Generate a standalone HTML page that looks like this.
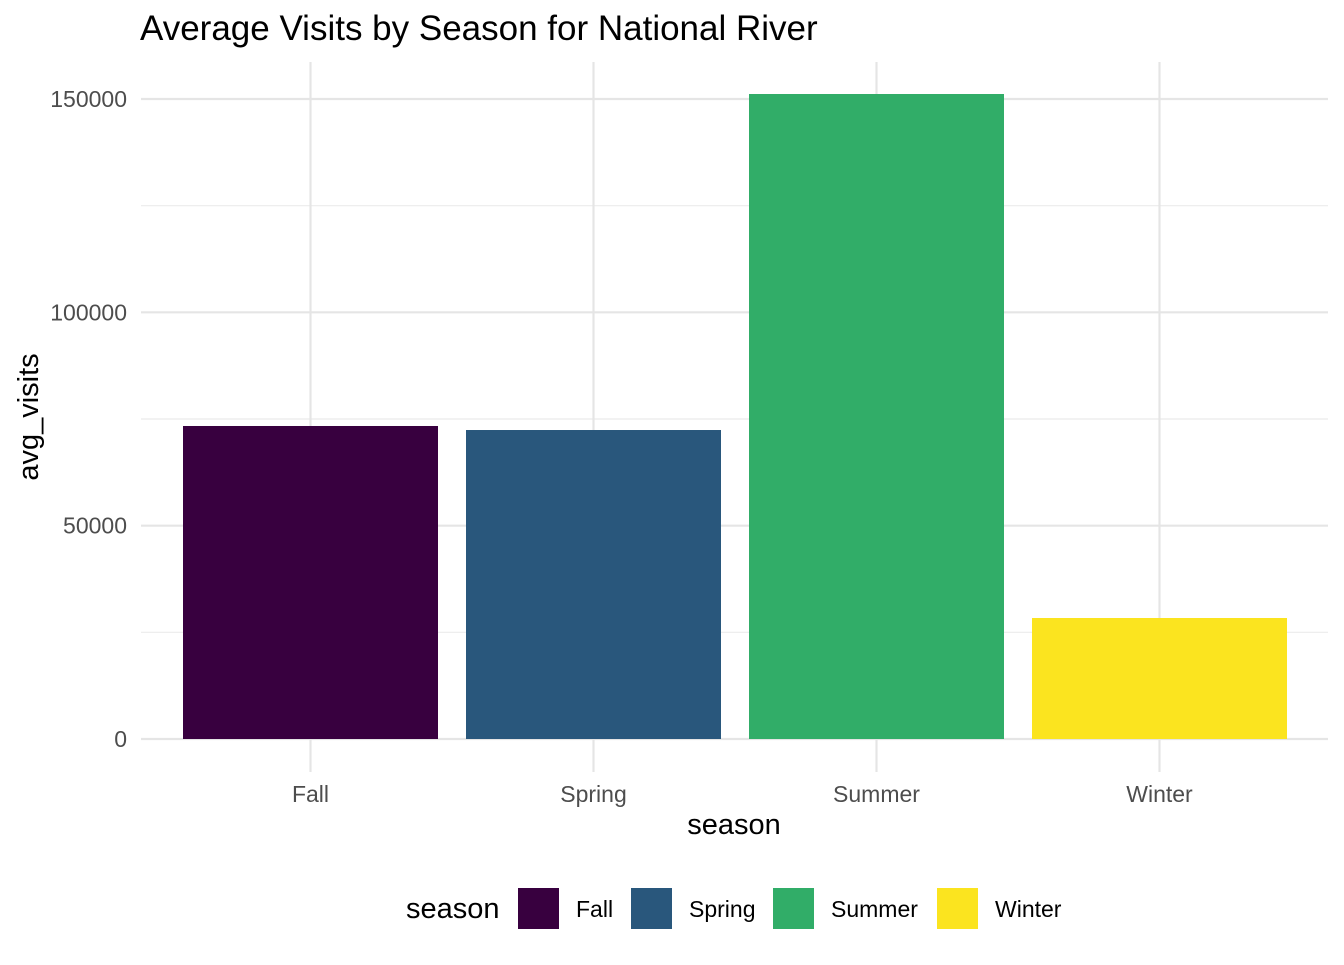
<!DOCTYPE html>
<html><head><meta charset="utf-8"><style>
body{margin:0;background:#fff;font-family:"Liberation Sans",Arial,sans-serif}
</style></head><body>
<svg width="1344" height="960" xmlns="http://www.w3.org/2000/svg">
<g id="plot"></g>
</svg>
<script>
const categories=["Fall","Spring","Summer","Winter"];
const values=[73360,72420,151170,28360];
const barColors=["#38003f","#29577c","#31ad68","#fbe41f"];
const yTicks=[0,50000,100000,150000];
const yTickLabels=["0","50000","100000","150000"];
const yMinor=[25000,75000,125000];
const ns="http://www.w3.org/2000/svg";
const g=document.getElementById("plot");
const y=v=>739-v*(640/150000);
const x=i=>310.5+i*283;
const bw=255;
function el(t,a,txt){const e=document.createElementNS(ns,t);for(const k in a)e.setAttribute(k,a[k]);if(txt!==undefined)e.textContent=txt;g.appendChild(e);return e;}
yMinor.forEach(v=>{const e=el("line",{x1:141,x2:1328,y1:y(v),y2:y(v),stroke:"#ebebeb","stroke-width":1.2});

});
yTicks.forEach((v,i)=>{const e=el("line",{x1:141,x2:1328,y1:y(v),y2:y(v),stroke:"#e5e5e5","stroke-width":2.2});


const t=el("text",{x:127,y:y(v)+8,"text-anchor":"end","font-size":"23",fill:"#4d4d4d"},yTickLabels[i]);

});
categories.forEach((c,i)=>{const e=el("line",{x1:x(i),x2:x(i),y1:62,y2:772,stroke:"#e5e5e5","stroke-width":2.2});

});
categories.forEach((c,i)=>{const r=el("rect",{x:x(i)-bw/2,y:y(values[i]),width:bw,height:y(0)-y(values[i]),fill:barColors[i]});


const t=el("text",{x:x(i),y:802,"text-anchor":"middle","font-size":"23",fill:"#4d4d4d"},c);

});
let t;
t=el("text",{x:140,y:40,"font-size":"35",fill:"#000"},"Average Visits by Season for National River");


t=el("text",{x:734,y:834,"text-anchor":"middle","font-size":"29",fill:"#000"},"season");


t=el("text",{x:0,y:0,"text-anchor":"middle","font-size":"29",fill:"#000",transform:"translate(38,417) rotate(-90)"},"avg_visits");


t=el("text",{x:406,y:918,"font-size":"29",fill:"#000"},"season");


const lx=[518,631,773,937];
categories.forEach((c,i)=>{const r=el("rect",{x:lx[i],y:888,width:41,height:41,fill:barColors[i]});


const tt=el("text",{x:lx[i]+58,y:917,"font-size":"23",fill:"#000"},c);

});
</script>
</body></html>
